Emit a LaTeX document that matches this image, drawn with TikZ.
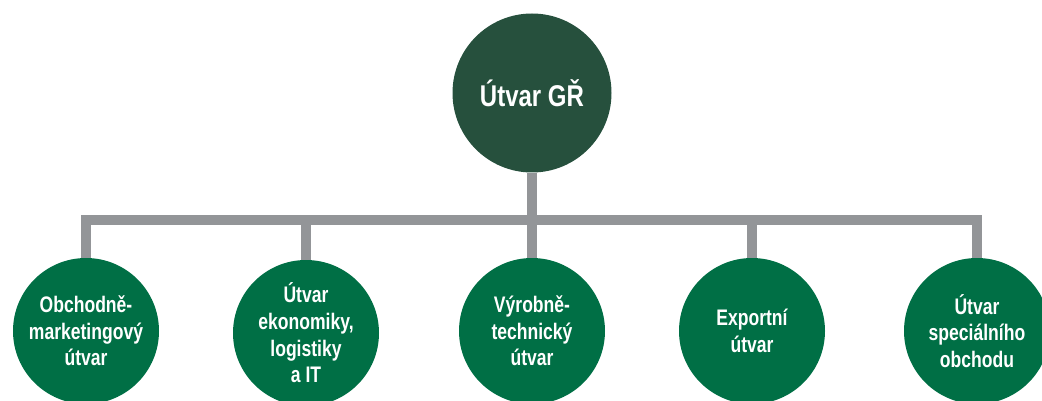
\documentclass[tikz,border=0pt]{standalone}
\usepackage{fontspec}
\newfontfamily\condfont[FakeStretch=0.78]{Liberation Sans Bold}
\newfontfamily\headfont[FakeStretch=0.8]{Liberation Sans Bold}
\usetikzlibrary{backgrounds}

\definecolor{headgreen}{RGB}{38,80,61}
\definecolor{unitgreen}{RGB}{0,111,69}
\definecolor{bargray}{RGB}{147,149,152}

\begin{document}
\begin{tikzpicture}[x=1pt,y=1pt,
	head node/.style={circle,fill=headgreen,inner sep=0pt,minimum size=159pt,text=white,
		font=\headfont\fontsize{30}{34}\selectfont},
	unit node/.style={circle,fill=unitgreen,inner sep=0pt,minimum size=146pt,text=white,align=center,
		font=\condfont\fontsize{22.5}{26.7}\selectfont},
	link/.style={draw=bargray,line width=10pt}]
	\useasboundingbox (0,0) rectangle (1042,-401);
	
	\node[head node] (GR) at (532,-93) {Útvar GŘ};
	\coordinate (hub) at (532,-220);
	
	\node[unit node] (OM) at (86,-331) {Obchodně-\\marketingový\\útvar};
	\node[unit node] (EK) at (306,-333) {Útvar\\ekonomiky,\\logistiky\\a IT};
	\node[unit node] (VT) at (532,-331) {Výrobně-\\technický\\útvar};
	\node[unit node] (EX) at (752,-331) {Exportní\\útvar};
	\node[unit node] (SO) at (977,-331) {Útvar\\speciálního\\obchodu};
	
	\begin{scope}[on background layer]
	\path[link]
	(GR) -- (hub)
	(hub) -| (OM)
	(hub) -| (EK)
	(hub) -- (VT)
	(hub) -| (EX)
	(hub) -| (SO);
	\end{scope}
\end{tikzpicture}
\end{document}
